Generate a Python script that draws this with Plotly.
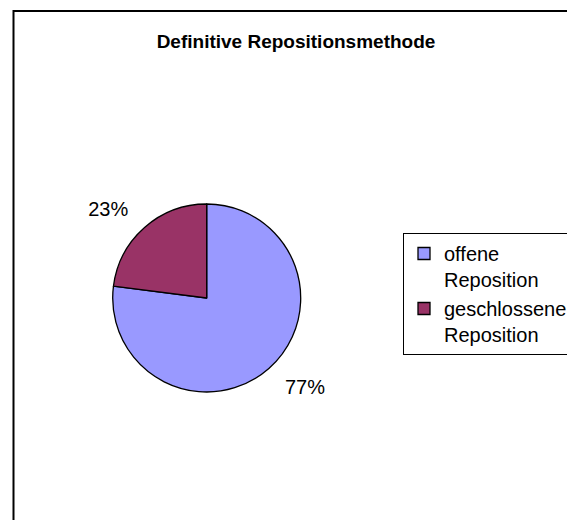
import plotly.graph_objects as go

# Slice data
labels = ["offene<br>Reposition", "geschlossene<br>Reposition"]
values = [77, 23]
colors = ["#9999FF", "#993366"]

W, H = 575, 520
# the page body adds an 8px margin, so pixel positions below are shifted by 8
OFF = 8


def px_x(x):
    return (x - OFF) / W


def px_y(y):
    return 1 - (y - OFF) / H


# pie centre and radius in screen pixels
cx, cy, r = 206.7, 298, 94
label_r = r + 16  # percent labels sit a bit further out than plotly's default

fig = go.Figure()
# transparent copy of the pie that only carries the outside percent labels
fig.add_trace(
    go.Pie(
        labels=labels,
        values=values,
        sort=False,
        direction="clockwise",
        rotation=0,
        marker=dict(colors=["rgba(0,0,0,0)"] * 2, line=dict(width=0)),
        texttemplate="%{percent:.0%}",
        textposition="outside",
        outsidetextfont=dict(family="Liberation Sans, Arial", size=20, color="black"),
        domain=dict(x=[px_x(cx - label_r), px_x(cx + label_r)],
                    y=[px_y(cy + label_r), px_y(cy - label_r)]),
        hoverinfo="skip",
        showlegend=False,
    )
)
fig.add_trace(
    go.Pie(
        labels=labels,
        values=values,
        sort=False,
        direction="clockwise",
        rotation=0,
        marker=dict(colors=colors, line=dict(color="black", width=1.3)),
        textinfo="none",
        domain=dict(x=[px_x(cx - r), px_x(cx + r)],
                    y=[px_y(cy + r), px_y(cy - r)]),
        hoverinfo="label+percent",
    )
)

# Chart area border (only left and top edges are visible in the window)
fig.add_shape(
    type="rect", xref="paper", yref="paper",
    x0=px_x(13.5), x1=1.05, y0=-0.05, y1=px_y(11),
    line=dict(color="black", width=2), fillcolor="rgba(0,0,0,0)",
)

fig.update_layout(
    width=W,
    height=H,
    margin=dict(l=0, r=0, t=0, b=0),
    paper_bgcolor="white",
    plot_bgcolor="white",
    font=dict(family="Liberation Sans, Arial", color="black", size=19),
    title=dict(
        text="<b>Definitive Repositionsmethode</b>",
        x=px_x(296), xanchor="center",
        y=px_y(41), yanchor="middle",
        font=dict(family="Liberation Sans, Arial", size=19, color="black"),
    ),
    legend=dict(
        x=px_x(403), xanchor="left",
        y=px_y(233), yanchor="top",
        bordercolor="black", borderwidth=1,
        bgcolor="white",
        valign="top",
        itemwidth=30,
        font=dict(family="Liberation Sans, Arial", size=20, color="black"),
    ),
)

fig.write_html("out.html")
